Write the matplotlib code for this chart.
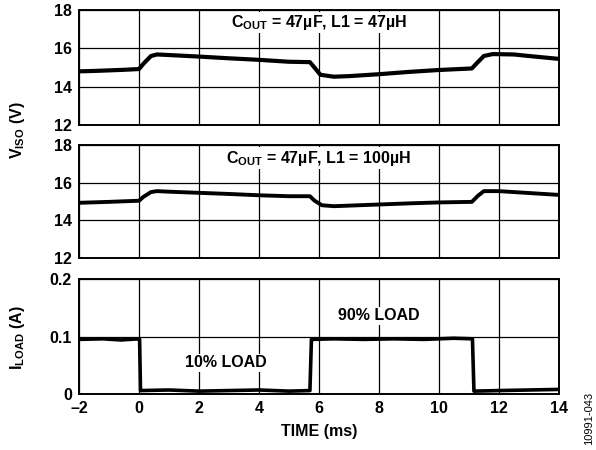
import numpy as np
import matplotlib
matplotlib.use("Agg")
import matplotlib.pyplot as plt

plt.rcParams['font.family'] = ['Liberation Sans', 'DejaVu Sans']
plt.rcParams['font.weight'] = 'bold'
plt.rcParams['mathtext.fontset'] = 'custom'
plt.rcParams['mathtext.rm'] = 'Liberation Sans:bold'
plt.rcParams['mathtext.it'] = 'Liberation Sans:bold'
plt.rcParams['mathtext.bf'] = 'Liberation Sans:bold'

# VISO trace, COUT = 47uF, L1 = 47uH
t1 = [-2, -1.5, -1, -0.5, 0, 0.15, 0.4, 0.6, 1, 2, 3, 4, 5, 5.7, 5.85, 6.05,
      6.5, 7, 8, 9, 10, 11.1, 11.25, 11.5, 11.8, 12.5, 13, 14]
v1 = [14.8, 14.82, 14.85, 14.88, 14.92, 15.2, 15.6, 15.68, 15.65, 15.57, 15.48,
      15.4, 15.3, 15.28, 15.0, 14.62, 14.52, 14.55, 14.65, 14.77, 14.87, 14.95,
      15.2, 15.6, 15.7, 15.68, 15.6, 15.45]

# VISO trace, COUT = 47uF, L1 = 100uH
t2 = [-2, -1, 0, 0.15, 0.4, 0.6, 1, 2, 3, 4, 5, 5.7, 5.85, 6.1, 6.5, 7, 8, 9,
      10, 11.1, 11.3, 11.5, 12, 13, 14]
v2 = [14.93, 14.98, 15.04, 15.25, 15.5, 15.55, 15.52, 15.46, 15.4, 15.33, 15.28,
      15.28, 15.05, 14.8, 14.75, 14.78, 14.84, 14.9, 14.95, 14.98, 15.3, 15.55,
      15.55, 15.45, 15.35]

# load current
ti = [-2, -1.2, -0.6, 0.0, 0.02, 0.05, 1, 2, 3, 4, 5, 5.7, 5.75, 6.5, 7.5, 8.5,
      9.5, 10.5, 11.12, 11.17, 12, 13, 14]
il = [0.095, 0.096, 0.094, 0.096, 0.095, 0.006, 0.007, 0.005, 0.006, 0.007,
      0.005, 0.006, 0.095, 0.096, 0.095, 0.096, 0.095, 0.097, 0.096, 0.005,
      0.006, 0.007, 0.008]

xticks = [-2, 0, 2, 4, 6, 8, 10, 12, 14]
xticklabels = ['\u20132', '0', '2', '4', '6', '8', '10', '12', '14']
vticks = [12, 14, 16, 18]
iticks = [0, 0.1, 0.2]
iticklabels = ['0', '0.1', '0.2']

fs = 11.5

fig = plt.figure(figsize=(5.96, 4.5), dpi=100)
left, width = 0.1326, 0.805
ax1 = fig.add_axes([left, 0.7222, width, 0.2556])
ax2 = fig.add_axes([left, 0.4267, width, 0.2511])
ax3 = fig.add_axes([left, 0.1244, width, 0.2556])

def style(ax, yt, ytl=None):
    ax.set_xlim(-2, 14)
    ax.set_xticks(xticks)
    ax.set_yticks(yt)
    if ytl is not None:
        ax.set_yticklabels(ytl)
    ax.grid(True, color='black', linewidth=0.9)
    ax.set_axisbelow(True)
    ax.tick_params(length=0, labelsize=fs, pad=5)
    for s in ax.spines.values():
        s.set_linewidth(1.4)
    for lab in ax.get_yticklabels() + ax.get_xticklabels():
        lab.set_fontweight('bold')

style(ax1, vticks)
ax1.set_ylim(12, 18)
ax1.set_xticklabels([])
ax1.plot(t1, v1, color='black', linewidth=3.0, zorder=3)
ax1.text(6, 17.35, r'C$_{\mathrm{OUT}}$ = 47µF, L1 = 47µH', ha='center',
         va='center', fontsize=fs, fontweight='bold', zorder=4,
         bbox=dict(facecolor='white', edgecolor='none', pad=1))

style(ax2, vticks)
ax2.set_ylim(12, 18)
ax2.set_xticklabels([])
ax2.plot(t2, v2, color='black', linewidth=2.8, zorder=3)
ax2.text(6, 17.3, r'C$_{\mathrm{OUT}}$ = 47µF, L1 = 100µH', ha='center',
         va='center', fontsize=fs, fontweight='bold', zorder=4,
         bbox=dict(facecolor='white', edgecolor='none', pad=1))

style(ax3, iticks, iticklabels)
ax3.set_ylim(0, 0.2)
ax3.set_xticklabels(xticklabels)
ax3.plot(ti, il, color='black', linewidth=2.6, zorder=3)
ax3.text(2.9, 0.054, '10% LOAD', ha='center', va='center', fontsize=fs,
         fontweight='bold', zorder=4,
         bbox=dict(facecolor='white', edgecolor='none', pad=1))
ax3.text(8.0, 0.136, '90% LOAD', ha='center', va='center', fontsize=fs,
         fontweight='bold', zorder=4,
         bbox=dict(facecolor='white', edgecolor='none', pad=1))
ax3.set_xlabel('TIME (ms)', fontsize=fs, fontweight='bold', labelpad=6)

fig.text(0.03, 0.71, r'V$_{\mathrm{ISO}}$ (V)', rotation=90, ha='center',
         va='center', fontsize=fs, fontweight='bold')
fig.text(0.03, 0.25, r'I$_{\mathrm{LOAD}}$ (A)', rotation=90, ha='center',
         va='center', fontsize=fs, fontweight='bold')
fig.text(0.988, 0.07, '10991-043', rotation=90, ha='center', va='center',
         fontsize=8, fontweight='normal')

fig.savefig('out.png', dpi=100)
